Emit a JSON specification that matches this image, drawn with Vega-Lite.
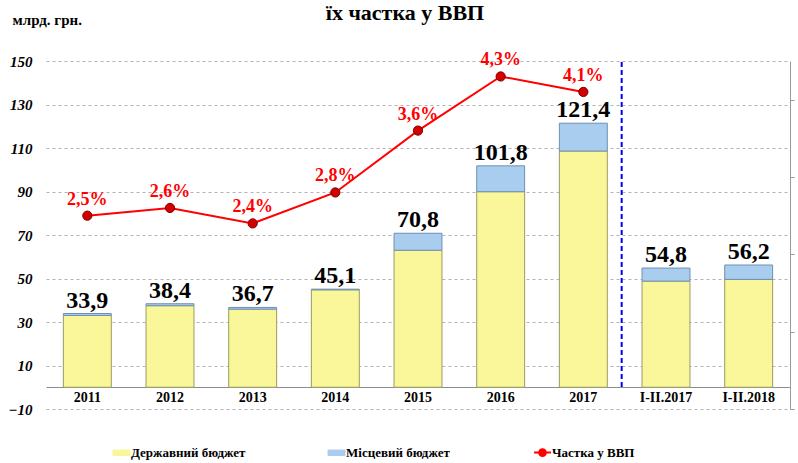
{
  "$schema": "https://vega.github.io/schema/vega-lite/v6.json",
  "width": 744,
  "height": 348,
  "autosize": {"type": "none"},
  "padding": {"left": 46, "right": 8, "top": 61, "bottom": 54},
  "background": "white",
  "title": {
    "text": "їх частка у ВВП",
    "font": "Liberation Serif",
    "fontSize": 22,
    "fontWeight": "bold",
    "color": "#000000",
    "anchor": "middle",
    "frame": "group",
    "baseline": "alphabetic",
    "offset": -30,
    "dx": -13
  },
  "datasets": {
    "segments": [
      {"cat": "2011", "type": "Державний бюджет", "value": 33.0},
      {"cat": "2011", "type": "Місцевий бюджет", "value": 0.9},
      {"cat": "2012", "type": "Державний бюджет", "value": 37.5},
      {"cat": "2012", "type": "Місцевий бюджет", "value": 0.9},
      {"cat": "2013", "type": "Державний бюджет", "value": 35.9},
      {"cat": "2013", "type": "Місцевий бюджет", "value": 0.8},
      {"cat": "2014", "type": "Державний бюджет", "value": 44.8},
      {"cat": "2014", "type": "Місцевий бюджет", "value": 0.3},
      {"cat": "2015", "type": "Державний бюджет", "value": 63.0},
      {"cat": "2015", "type": "Місцевий бюджет", "value": 7.8},
      {"cat": "2016", "type": "Державний бюджет", "value": 89.9},
      {"cat": "2016", "type": "Місцевий бюджет", "value": 11.9},
      {"cat": "2017", "type": "Державний бюджет", "value": 108.6},
      {"cat": "2017", "type": "Місцевий бюджет", "value": 12.8},
      {"cat": "I-II.2017", "type": "Державний бюджет", "value": 48.8},
      {"cat": "I-II.2017", "type": "Місцевий бюджет", "value": 6.0},
      {"cat": "I-II.2018", "type": "Державний бюджет", "value": 49.6},
      {"cat": "I-II.2018", "type": "Місцевий бюджет", "value": 6.6}
    ],
    "totals": [
      {"cat": "2011", "total": 33.9},
      {"cat": "2012", "total": 38.4},
      {"cat": "2013", "total": 36.7},
      {"cat": "2014", "total": 45.1},
      {"cat": "2015", "total": 70.8},
      {"cat": "2016", "total": 101.8},
      {"cat": "2017", "total": 121.4},
      {"cat": "I-II.2017", "total": 54.8},
      {"cat": "I-II.2018", "total": 56.2}
    ],
    "share": [
      {"cat": "2011", "share": 2.5, "label": "2,5%"},
      {"cat": "2012", "share": 2.6, "label": "2,6%"},
      {"cat": "2013", "share": 2.4, "label": "2,4%"},
      {"cat": "2014", "share": 2.8, "label": "2,8%"},
      {"cat": "2015", "share": 3.6, "label": "3,6%"},
      {"cat": "2016", "share": 4.3, "label": "4,3%"},
      {"cat": "2017", "share": 4.1, "label": "4,1%"}
    ]
  },
  "layer": [
    {
      "layer": [
        {
          "data": {"name": "segments"},
          "mark": {"type": "bar", "strokeWidth": 1},
          "encoding": {
            "x": {
              "field": "cat",
              "type": "nominal",
              "sort": null,
              "scale": {
                "domain": ["2011", "2012", "2013", "2014", "2015", "2016", "2017", "I-II.2017", "I-II.2018"],
                "paddingInner": 0.42,
                "paddingOuter": 0.21
              },
              "axis": {
                "title": null,
                "offset": -22,
                "domain": true,
                "domainColor": "#8c8c8c",
                "domainWidth": 1,
                "ticks": false,
                "labelAngle": 0,
                "labelPadding": 3,
                "labelFont": "Liberation Serif",
                "labelFontSize": 14,
                "labelFontWeight": "bold",
                "labelColor": "#000000",
                "grid": false
              }
            },
            "y": {
              "field": "value",
              "type": "quantitative",
              "stack": "zero",
              "scale": {"domain": [-10, 150], "nice": false, "zero": false},
              "axis": {
                "values": [-10, 10, 30, 50, 70, 90, 110, 130, 150],
                "grid": true,
                "gridColor": "#b4b4b4",
                "gridDash": [3, 3],
                "gridWidth": 1,
                "domain": false,
                "ticks": false,
                "labelPadding": 14,
                "labelFont": "Liberation Serif",
                "labelFontSize": 15,
                "labelFontWeight": "bold",
                "labelFontStyle": "italic",
                "labelColor": "#000000",
                "title": "млрд. грн.",
                "titleAngle": 0,
                "titleX": -34,
                "titleY": -37,
                "titleAlign": "left",
                "titleBaseline": "alphabetic",
                "titleFont": "Liberation Serif",
                "titleFontSize": 15,
                "titleFontWeight": "bold",
                "titleColor": "#000000"
              }
            },
            "order": {"field": "type", "sort": "ascending"},
            "color": {
              "field": "type",
              "type": "nominal",
              "scale": {
                "domain": ["Державний бюджет", "Місцевий бюджет", "Частка у ВВП"],
                "range": ["#f9f799", "#a9cdee", "#ff0000"]
              },
              "legend": {
                "title": null,
                "orient": "none",
                "legendX": 69,
                "legendY": 385,
                "direction": "horizontal",
                "columns": 3,
                "columnPadding": 80,
                "padding": 0,
                "symbolSize": 289,
                "labelFont": "Liberation Serif",
                "labelFontSize": 13,
                "labelFontWeight": "bold",
                "labelColor": "#000000",
                "labelOffset": 3,
                "encode": {
                  "symbols": {
                    "update": {
                      "shape": {"signal": "datum.value === 'Частка у ВВП' ? 'M-1,0H-0.4M0.4,0H1M0.4,0A0.4,0.4 0 1 1 -0.4,0A0.4,0.4 0 1 1 0.4,0Z' : 'M-1,-0.32H1V0.32H-1Z'"},
                      "fill": {"signal": "datum.value === 'Частка у ВВП' ? '#d40000' : (datum.value === 'Державний бюджет' ? '#f9f799' : '#a9cdee')"},
                      "stroke": {"signal": "datum.value === 'Частка у ВВП' ? '#ff0000' : (datum.value === 'Державний бюджет' ? '#9b9b62' : '#6f90b3')"},
                      "strokeWidth": {"signal": "datum.value === 'Частка у ВВП' ? 2 : 1"},
                      "opacity": {"value": 1}
                    }
                  }
                }
              }
            },
            "stroke": {
              "field": "type",
              "type": "nominal",
              "scale": {
                "domain": ["Державний бюджет", "Місцевий бюджет"],
                "range": ["#9b9b62", "#6f90b3"]
              },
              "legend": null
            }
          }
        },
        {
          "data": {"values": [{}]},
          "mark": {"type": "rule", "color": "#0000ff", "strokeWidth": 2, "strokeDash": [5, 3]},
          "encoding": {
            "x": {"datum": "2017", "type": "nominal", "bandPosition": 1.3},
            "y": {"datum": 149.5, "type": "quantitative"},
            "y2": {"datum": 0}
          }
        },
        {
          "data": {"name": "totals"},
          "mark": {
            "type": "text",
            "font": "Liberation Serif",
            "fontSize": 24,
            "fontWeight": "bold",
            "color": "#000000",
            "baseline": "alphabetic",
            "dy": -6
          },
          "encoding": {
            "x": {"field": "cat", "type": "nominal", "sort": null},
            "y": {"field": "total", "type": "quantitative"},
            "text": {"field": "total", "type": "quantitative", "format": ".1f"}
          }
        }
      ]
    },
    {
      "data": {"name": "share"},
      "layer": [
        {
          "mark": {"type": "line", "strokeWidth": 2},
          "encoding": {
            "x": {"field": "cat", "type": "nominal", "sort": null},
            "y": {
              "field": "share",
              "type": "quantitative",
              "scale": {"domain": [0, 4.5], "nice": false, "zero": false},
              "axis": {
                "orient": "right",
                "values": [0, 0.5, 1, 1.5, 2, 2.5, 3, 3.5, 4, 4.5],
                "labels": false,
                "ticks": true,
                "tickSize": 4,
                "tickColor": "#9a9a9a",
                "domain": true,
                "domainColor": "#9a9a9a",
                "grid": false,
                "title": null
              }
            },
            "color": {"datum": "Частка у ВВП", "type": "nominal"}
          }
        },
        {
          "mark": {"type": "point", "filled": true, "fill": "#d40000", "stroke": "#7a0000", "strokeWidth": 1, "size": 85, "opacity": 1},
          "encoding": {
            "x": {"field": "cat", "type": "nominal", "sort": null},
            "y": {"field": "share", "type": "quantitative"}
          }
        },
        {
          "mark": {
            "type": "text",
            "font": "Liberation Serif",
            "fontSize": 18,
            "fontWeight": "bold",
            "color": "#ff0000",
            "baseline": "alphabetic",
            "dy": -11
          },
          "encoding": {
            "x": {"field": "cat", "type": "nominal", "sort": null},
            "y": {"field": "share", "type": "quantitative"},
            "text": {"field": "label", "type": "nominal"}
          }
        }
      ]
    }
  ],
  "resolve": {"scale": {"y": "independent"}},
  "config": {
    "view": {"stroke": null},
    "font": "Liberation Serif",
    "locale": {"number": {"decimal": ",", "thousands": " ", "grouping": [3], "currency": ["", ""]}}
  }
}
